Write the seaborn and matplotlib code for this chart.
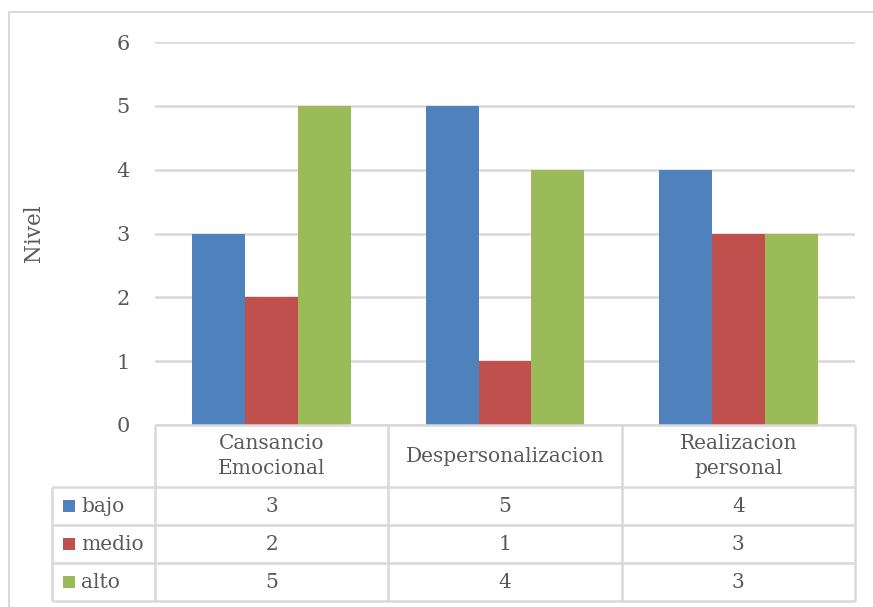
import matplotlib
matplotlib.use("Agg")
import matplotlib.pyplot as plt
import matplotlib.patches as mpatches
import seaborn as sns
import pandas as pd

categories = ["Cansancio\nEmocional", "Despersonalizacion", "Realizacion\npersonal"]
levels = ["bajo", "medio", "alto"]
bajo = [3, 5, 4]
medio = [2, 1, 3]
alto = [5, 4, 3]
y_ticks = [0, 1, 2, 3, 4, 5, 6]
y_label = "Nivel"

colors = ["#4F81BD", "#C0504D", "#9BBB59"]
text_color = "#595959"
line_color = "#D9D9D9"
fs = 14.5

sns.set_theme(style="white")
plt.rcParams["font.family"] = ["DejaVu Serif"]

series = {"bajo": bajo, "medio": medio, "alto": alto}
df = pd.DataFrame(
    [(cat, lvl, series[lvl][i]) for lvl in levels for i, cat in enumerate(categories)],
    columns=["categoria", "nivel", "valor"],
)

W, H = 873, 607
fig = plt.figure(figsize=(W / 100, H / 100), dpi=100)
fig.patch.set_facecolor("white")

# chart frame (runs off the right and bottom edges)
fig.patches.append(mpatches.Rectangle((9 / W, -0.05), 1.2, 1 - 12 / H + 0.05,
                                      transform=fig.transFigure, fill=False,
                                      edgecolor=line_color, linewidth=1.5))

left, right, top, bottom = 155, 855, 42, 425
ax = fig.add_axes([left / W, 1 - bottom / H, (right - left) / W, (bottom - top) / H])

sns.barplot(data=df, x="categoria", y="valor", hue="nivel", hue_order=levels,
            palette=colors, width=0.68, linewidth=0, saturation=1,
            ax=ax, legend=False)

ax.set_ylim(0, 6)
ax.set_xlim(-0.5, len(categories) - 0.5)
ax.set_yticks(y_ticks)
ax.set_yticklabels([str(t) for t in y_ticks], fontsize=15, color=text_color)
ax.tick_params(axis="y", length=0, pad=18)
ax.set_xticks([])
ax.set_xlabel("")
ax.set_ylabel(y_label, fontsize=15.5, color=text_color)
ax.yaxis.set_label_coords(-(left - 45) / (right - left), 0.5)
ax.yaxis.grid(True, color=line_color, linewidth=1.8)
ax.set_axisbelow(True)
for s in ax.spines.values():
    s.set_visible(False)

# data table below the plot
px = bottom - top
header_h, row_h = 62, 38
y_head = -header_h / px
y_rows = [y_head - (k + 1) * row_h / px for k in range(len(levels))]
legend_x = -0.5 - 103 / ((right - left) / len(categories))
bt = ax.get_xaxis_transform()
lkw = dict(color=line_color, linewidth=1.8, transform=bt, clip_on=False, solid_capstyle="butt")
n = len(categories)

ax.plot([-0.5, n - 0.5], [0, 0], **lkw)
for yy in [y_head] + y_rows:
    ax.plot([legend_x, n - 0.5], [yy, yy], **lkw)
for k in range(n + 1):
    ax.plot([k - 0.5, k - 0.5], [0, y_rows[-1]], **lkw)
ax.plot([legend_x, legend_x], [y_head, y_rows[-1]], **lkw)

for i, cat in enumerate(categories):
    ax.text(i, y_head / 2, cat, ha="center", va="center", fontsize=fs,
            color=text_color, transform=bt, linespacing=1.45)

row_tops = [y_head] + y_rows[:-1]
for r, lvl in enumerate(levels):
    yc = (row_tops[r] + y_rows[r]) / 2
    ax.add_patch(mpatches.Rectangle((legend_x + 0.045, yc - 6 / px), 0.055, 12 / px,
                                    facecolor=colors[r], edgecolor="none",
                                    transform=bt, clip_on=False))
    ax.text(legend_x + 0.125, yc, lvl, ha="left", va="center", fontsize=fs,
            color=text_color, transform=bt)
    for i in range(n):
        ax.text(i, yc, str(series[lvl][i]), ha="center", va="center", fontsize=fs,
                color=text_color, transform=bt)

fig.savefig("out.png", dpi=100, facecolor="white")
